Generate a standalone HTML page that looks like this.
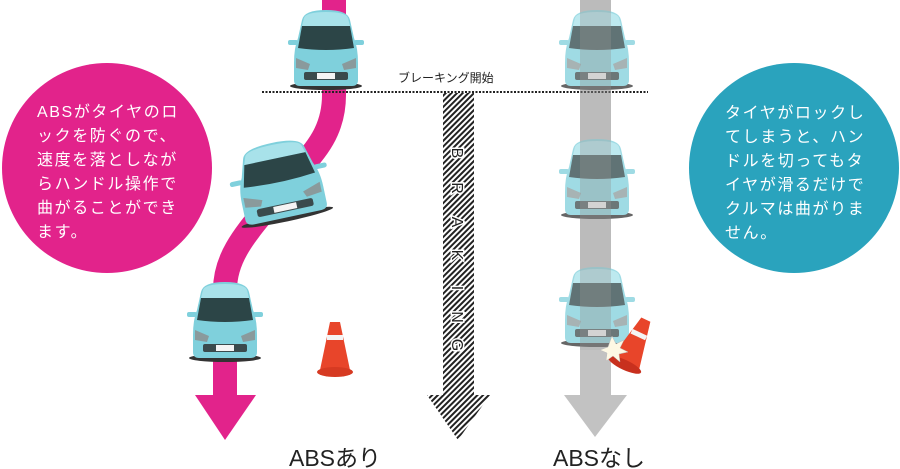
<!DOCTYPE html>
<html><head><meta charset="utf-8"><style>
html,body{margin:0;padding:0;background:#fff;}
svg{display:block;}
.jp{font-family:"Liberation Sans","Noto Sans CJK JP",sans-serif;}
</style></head><body>
<svg width="900" height="469" viewBox="0 0 900 469" xmlns="http://www.w3.org/2000/svg">
<defs>
<pattern id="hatch" width="4" height="4" patternUnits="userSpaceOnUse" patternTransform="rotate(45)">
<rect width="4" height="4" fill="#fff"/><rect width="2" height="4" fill="#222"/>
</pattern>
<g id="car">
<ellipse cx="38" cy="78" rx="36" ry="4" fill="#333"/>
<path d="M14 12 Q16 2 38 2 Q60 2 62 12 L66 30 Q70 40 70 55 L70 72 Q70 78 64 78 L12 78 Q6 78 6 72 L6 55 Q6 40 10 30 Z" fill="#7fd0dc"/>
<path d="M16 10 Q18 4 38 4 Q58 4 60 10 L62 18 L14 18 Z" fill="#a8e2ea"/>
<path d="M14 18 L62 18 L66 40 Q38 44 10 40 Z" fill="#2c4547"/>
<rect x="0" y="32" width="10" height="5" rx="2" fill="#7fd0dc"/>
<rect x="66" y="32" width="10" height="5" rx="2" fill="#7fd0dc"/>
<path d="M8 50 L22 56 L20 62 L8 60 Z" fill="#8a9a9c"/>
<path d="M68 50 L54 56 L56 62 L68 60 Z" fill="#8a9a9c"/>
<rect x="16" y="64" width="44" height="8" rx="2" fill="#3a4a4c"/>
<rect x="29" y="65" width="18" height="6" fill="#f4f4f4"/>
</g>
</defs>

<circle cx="107" cy="168" r="105" fill="#e2238b"/>
<circle cx="794" cy="168" r="105" fill="#2aa3bd"/>
<g class="jp" font-size="16" fill="#fff" letter-spacing="1.6">
<text x="37" y="117">ABSがタイヤのロ</text>
<text x="37" y="141">ックを防ぐので、</text>
<text x="37" y="165">速度を落としなが</text>
<text x="37" y="189">らハンドル操作で</text>
<text x="37" y="213">曲がることができ</text>
<text x="37" y="237">ます。</text>
<text x="725" y="118">タイヤがロックし</text>
<text x="725" y="142">てしまうと、ハン</text>
<text x="725" y="166">ドルを切ってもタ</text>
<text x="725" y="190">イヤが滑るだけで</text>
<text x="725" y="214">クルマは曲がりま</text>
<text x="725" y="238">せん。</text>
</g>

<path d="M334 0 L334 95 C334 140 305 160 285 185 C255 225 225 250 225 290 L225 398" fill="none" stroke="#e2238b" stroke-width="24"/>
<path d="M195 395 L256 395 L225 440 Z" fill="#e2238b"/>

<rect x="580" y="0" width="31" height="398" fill="#c2c2c2"/>
<path d="M564 395 L627 395 L595 437 Z" fill="#c2c2c2"/>

<rect x="443" y="93" width="31" height="305" fill="url(#hatch)"/>
<path d="M427 395 L490 395 L458 440 Z" fill="url(#hatch)"/>
<g font-family="Liberation Sans,sans-serif" font-size="16" fill="#fff" stroke="#fff" stroke-width="3" text-anchor="middle">
<text transform="translate(452,153) rotate(90)">B</text>
<text transform="translate(452,188) rotate(90)">R</text>
<text transform="translate(452,222) rotate(90)">A</text>
<text transform="translate(452,255) rotate(90)">K</text>
<text transform="translate(452,288) rotate(90)">I</text>
<text transform="translate(452,317) rotate(90)">N</text>
<text transform="translate(452,345) rotate(90)">G</text>
</g>
<g font-family="Liberation Sans,sans-serif" font-size="16" fill="#222" text-anchor="middle">
<text transform="translate(452,153) rotate(90)">B</text>
<text transform="translate(452,188) rotate(90)">R</text>
<text transform="translate(452,222) rotate(90)">A</text>
<text transform="translate(452,255) rotate(90)">K</text>
<text transform="translate(452,288) rotate(90)">I</text>
<text transform="translate(452,317) rotate(90)">N</text>
<text transform="translate(452,345) rotate(90)">G</text>
</g>

<line x1="262" y1="92" x2="648" y2="92" stroke="#222" stroke-width="2" stroke-dasharray="2,1.5"/>
<text class="jp" x="398" y="82" font-size="12" fill="#222">ブレーキング開始</text>

<use href="#car" transform="translate(288,8)"/>
<g transform="translate(230,140) rotate(-12 50 40) scale(1.3,1.0)"><use href="#car"/></g>
<use href="#car" transform="translate(187,280)"/>

<g opacity="0.75">
<use href="#car" transform="translate(559,8)"/>
<use href="#car" transform="translate(559,137)"/>
<use href="#car" transform="translate(559,265)"/>
</g>
<rect x="580" y="0" width="31" height="350" fill="#b0b0b0" opacity="0.35"/>

<g>
<path d="M330 322 L340 322 L350 370 L320 370 Z" fill="#e8452a"/>
<rect x="327" y="335" width="16" height="5" fill="#f4f4f4"/>
<ellipse cx="335" cy="372" rx="18" ry="5" fill="#d63a22"/>
</g>
<g transform="translate(634,345) rotate(25)">
<path d="M-5 -28 L5 -28 L15 20 L-15 20 Z" fill="#e8452a"/>
<rect x="-8" y="-14" width="16" height="5" fill="#f4f4f4"/>
<ellipse cx="0" cy="22" rx="18" ry="5" fill="#c8301e"/>
</g>
<path d="M612 336 L616 344 L624 340 L620 348 L628 352 L619 354 L620 362 L613 356 L606 361 L607 353 L600 350 L608 347 Z" fill="#fdf8e4" stroke="#bbb" stroke-width="0.5"/>

<text class="jp" x="289" y="466" font-size="23" fill="#222">ABSあり</text>
<text class="jp" x="553" y="466" font-size="23" fill="#222">ABSなし</text>
</svg>
</body></html>
